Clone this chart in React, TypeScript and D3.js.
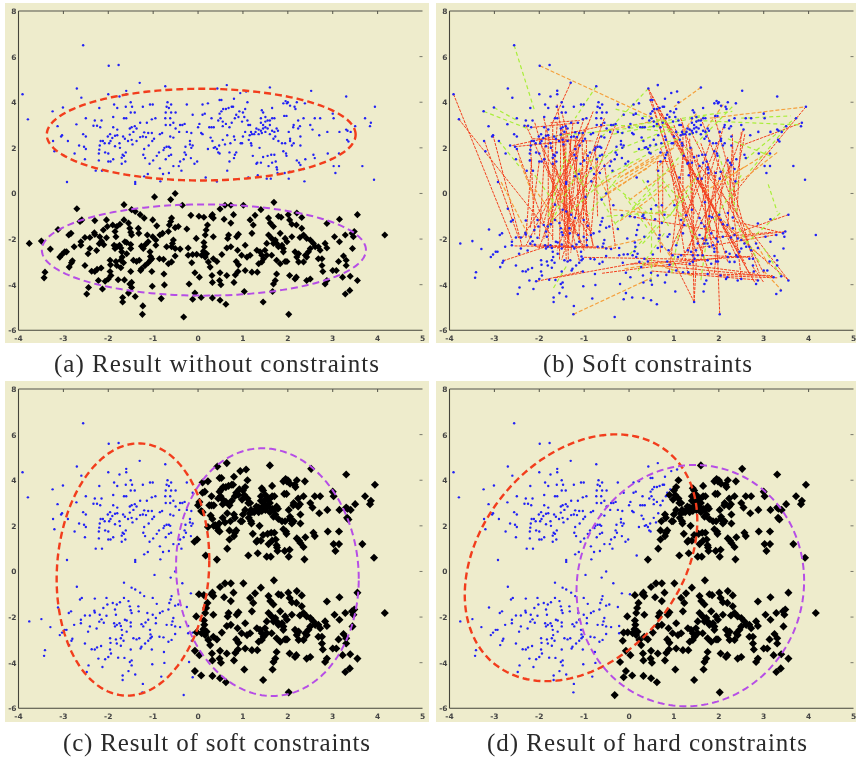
import React from 'react';
import * as d3 from 'd3';

// points, [x, y] in data units
const upperCluster: number[][] = [
  [-2.56,6.5],[-1.99,5.6],[-1.77,5.63],[-1.3,4.85],[-3.91,4.35],[-3.79,3.25],[-2.7,4.6],[-2.6,4.2],[-2,4.35],[-1.6,4.5],[-1.6,4.35],[-0.73,4.7],[0.43,4.6],[0.64,4.75],[0.94,4.4],[1.07,4.47],[1.6,4.65],[2.52,4.5],[3.3,4.25],[3.94,3.8],[3.72,3.3],[3.85,3.1],[3.83,2.95],[3.5,2.95],[3.66,1.2],[3.92,0.6],[-2.92,0.5],[-1.4,0.5],[-1.4,0.42],[-0.84,0.53],
  [-3.24,3.6],[-3.01,3.77],[-3.13,2.95],[-3.03,2.55],[-3.05,2.5],[-3.23,2.3],[-3.2,1.85],[-2.9,2.3],[-2.75,1.75],[-2.71,3.03],[-2.65,2.1],[-2.54,2.05],[-2.5,1.95],[-2.56,2.6],[-2.5,2.5],[-2.5,3.3],[-2.52,1.5],[-2.3,3.2],[-2.33,2.97],[-2.25,2.97],[-2.15,3.2],[-2.18,2.9],[-2.2,3.75],[-2.28,1.0],[-2.14,1.0],[-2.21,1.45],
  [-2.21,1.75],[-2.2,1.92],[-2.19,2.1],[-2.17,2.3],[-2.12,2.3],[-2.08,2.2],[-2.07,1.8],[-2.0,1.75],[-1.98,2.2],[-2.01,2.5],[-1.96,2.6],[-1.89,2.9],[-1.8,2.8],[-1.85,2.53],[-1.8,2.55],[-1.91,2.43],[-1.95,2.3],[-1.85,2.07],[-1.75,2.2],[-1.74,2.0],[-1.68,1.7],[-1.7,1.57],[-1.65,1.65],[-1.61,1.8],[-1.62,1.4],[-1.7,1.3],[-1.89,1.5],[-1.95,1.4],[-2,1.4],[-1.67,2.5],[-1.63,2.4],[-1.56,2.3],[-1.52,2.85],[-1.48,2.9],[-1.41,2.95],[-1.37,2.85],[-1.44,2.7],[-1.52,2.58],[-1.48,2.35],[-1.46,2.15],[-1.37,2.3],[-1.29,2.47],[-1.23,2.5],[-1.16,2.47],[-1.11,2.65],[-1.03,2.65],[-1.2,2.68],[-1.29,3.1],[-1.14,3.1],[-1.03,3.25],[-0.95,3.3],[-1.23,3.8],[-1.07,3.9],[-1.01,3.9],[-1.5,4.0],[-1.47,3.8],[-1.5,3.55],[-1.41,3.55],[-1.65,3.3],[-1.6,3.3],[-1.89,3.35],[-1.87,3.9],[-1.8,3.75],[-1.61,3.8],[-1.75,4.25],
  [-1.22,1.7],[-1.18,1.55],[-1.08,1.3],[-1.2,0.75],[-1.12,0.85],[-1.1,2.1],[-1.2,1.95],[-1.02,2.3],[-0.98,2.4],[-0.92,1.65],[-0.87,1.8],[-0.85,2.6],[-0.8,2.65],[-0.77,1.9],[-0.75,2.0],[-0.7,2.05],[-0.65,2.05],[-0.62,2.0],[-0.6,1.7],[-0.62,2.5],[-0.55,2.45],[-0.72,3.0],[-0.62,3.0],[-0.55,3.1],[-0.5,2.85],[-0.73,3.3],[-0.62,3.3],[-0.72,3.55],[-0.6,3.55],[-0.7,3.8],[-0.68,4.0],[-0.65,3.75],[-0.6,3.9],[-0.5,3.55],[-0.42,2.7],[-0.4,3.0],[-0.3,3.05],[-0.25,2.7],[-0.15,2.65],[-0.35,3.0],[-0.85,1.1],[-0.43,1.2],[-0.37,1.0],[-0.4,1.4],[-0.32,1.5],[-0.28,2.05],[-0.3,1.8],[-0.27,1.7],[-0.15,2.0],[-0.12,2.1],[-0.18,2.15],[-0.25,3.9],[-0.12,3.45],[-0.18,2.3],[-0.16,1.55],[-0.08,1.3],[-0.02,1.4],[-0.65,1.65],[-0.72,1.5],[-1.0,1.45],[-0.78,0.85],[-0.65,0.9],[-0.55,1.2],
  [0,2.9],[0.03,3.05],[0.07,2.65],[0.1,2.6],[0.1,3.9],[0.15,3.5],[0.22,3.95],[0.1,3.45],[0.25,2.9],[0.3,2.9],[0.35,2.9],[0.3,3.3],[0.28,2.45],[0.32,2.3],[0.22,1.95],[0.35,2.0],[0.38,2.03],[0.42,1.95],[0.48,1.75],[0.47,2.1],[0.45,1.8],[0.48,3.5],[0.5,3.3],[0.52,3.6],[0.45,3.2],[0.55,3.15],[0.48,4.1],[0.52,4.1],[0.56,3.7],[0.62,3.7],[0.68,3.75],[0.75,3.8],[0.78,3.8],[0.8,4.15],[0.55,2.95],[0.62,3.05],[0.75,3.1],[0.82,3.3],[0.85,3.45],[0.9,3.35],[0.92,3.6],[0.7,2.9],[0.65,2.55],[0.72,2.2],[0.82,2.35],[0.8,2.5],[0.6,2.15],[0.55,2.35],[0.7,1.8],[0.82,1.7],[0.8,1.55],[0.7,1.4],[0.65,1.0],[0.85,1.8],[0.95,2.2],[0.98,2.2],[1.0,2.5],[1.05,2.7],[0.98,3.15],[1.0,3.55],[1.05,3.7],[1.1,4.0],[1.03,3.35],[1.1,3.2],[1.12,3.0],[1.16,3.0],[1.18,2.7],[1.2,2.6],[1.15,2.55],[1.13,2.35],[1.18,2.2],[1.19,2.1],[1.22,1.65],[1.3,1.3],[1.32,1.35],[1.4,1.35],[1.37,2.0],[1.45,1.6],[1.55,1.65],[1.57,1.2],[1.63,1.7],[1.65,1.35],[1.7,1.7],[1.73,1.4],[1.76,1.05],[1.77,0.9],[1.12,0.7],[1.33,0.8],[1.53,0.65],[1.62,0.65],[1.93,0.9],[2.04,0.95],[2.02,0.65],[2.37,0.53],[0.42,0.52],[0.17,0.7],[2.35,1.07],[1.75,1.15],
  [3.02,1.2],[3.14,1.2],[3.06,0.9],[2.89,1.75],[3.14,1.75],[2.57,1.7],[2.6,1.55],[2.39,1.5],[2.2,1.45],[2.25,1.35],[2.28,1.25],[1.96,1.75],[1.9,1.85],[1.97,1.65],[2.28,2.1],[2.13,2.2],[2.09,2.1],[2.05,2.3],[2.05,2.4],[2.02,2.7],[1.94,2.2],[1.87,2.2],[1.79,2.3],
  [1.4,3.1],[1.45,3.0],[1.5,3.15],[1.55,3.2],[1.5,2.9],[1.55,2.85],[1.6,3.0],[1.45,2.85],[1.4,2.75],[1.35,2.8],[1.3,2.85],[1.28,2.7],[1.25,2.6],[1.35,2.6],[1.42,2.65],[1.5,2.7],[1.6,2.6],[1.65,2.75],[1.7,2.7],[1.75,2.85],[1.78,2.75],[1.72,2.5],[1.68,2.4],[1.65,3.3],[1.7,3.3],[1.6,3.2],[1.65,3.75],[1.42,3.65],[1.45,3.55],[1.4,3.3],[1.5,3.35],
  [1.9,3.95],[1.95,4.05],[1.98,3.95],[2,4.0],[1.92,3.4],[1.97,3.4],[2.05,3.85],[2.15,3.8],[2.17,3.7],[2.2,4.0],[2.38,3.95],[2.23,3.2],[2.13,3.0],[2.12,2.9],[2.23,2.85],[2.27,2.95],[2.28,2.5],[2.35,3.3],[2.5,3.0],[2.55,2.8],[2.6,3.3],[2.72,3.3],[2.7,2.55],[2.88,2.7],[3.0,3.5],[3.02,3.3],[3.15,2.7],[3.3,2.8],[3.33,2.75],[3.32,2.35],[3.35,2.28],[3.4,2.7],
];

const lowerCluster: number[][] = [
  [-3.76,-2.19],[-3.49,-2.09],[-3.29,-2.44],[-3.41,-3.45],[-3.43,-3.7],[-3.12,-1.58],[-2.7,-0.67],[-1.65,-0.49],[-0.97,-0.15],[-0.61,-0.27],[-0.51,0],[-0.35,-0.52],[-1.24,-5.3],[-1.23,-4.93],[-0.32,-5.42],[2.02,-5.3],[1.45,-4.76],[0.62,-4.86],[0.49,-4.68],[0.32,-4.58],[0.07,-4.56],[-0.12,-4.64],[-0.07,-4.37],[1.03,-4.3],[1.66,-4.3],[3.28,-4.41],[3.38,-4.25],[3.55,-3.82],[3.39,-3.63],[4.16,-1.82],[3.55,-0.93],[3.15,-1.13],[2.87,-1.32],[1.69,-0.39],[1.4,-0.71],[1.01,-0.52],[0.73,-0.52],[0.6,-0.52],[0.49,-0.68],
  [-2.48,-4.41],[-2.44,-4.12],[-2.13,-4.19],[-2.22,-3.82],[-2.07,-3.85],[-2.52,-3.16],[-2.87,-3.23],[-2.8,-2.95],[-2.82,-3.04],[-3.08,-2.79],[-3.03,-2.68],[-2.97,-2.56],[-2.93,-2.56],[-2.88,-1.82],[-2.83,-1.75],[-2.76,-2.34],[-2.61,-2.12],[-2.61,-2.27],[-2.52,-1.93],[-2.41,-1.93],[-2.45,-2.64],[-2.41,-2.41],[-2.26,-2.5],[-2.31,-1.72],[-2.3,-1.8],[-2.63,-1.23],[-2.59,-1.16],[-2.3,-1.19],
  [-2.37,-3.41],[-2.3,-3.42],[-2.25,-3.33],[-2.16,-3.27],[-2.19,-1.9],[-2.15,-2.1],[-2.2,-2.2],[-2.1,-2.25],[-2.04,-1.16],[-2.02,-1.45],[-2.11,-1.6],[-2.04,-1.94],[-1.9,-1.38],[-1.85,-1.67],[-1.83,-1.9],[-1.81,-1.45],[-1.74,-1.35],[-1.65,-1.16],[-1.55,-1.3],[-1.52,-1.53],[-1.5,-1.7],[-1.48,-1.82],[-1.87,-2.27],[-1.81,-2.34],[-1.75,-2.27],[-1.85,-2.41],[-1.72,-2.39],[-1.63,-2.12],[-1.59,-2.15],[-1.5,-2.24],[-1.5,-2.41],
  [-1.7,-2.56],[-1.59,-2.64],[-1.69,-2.79],[-1.96,-2.93],[-1.95,-3.13],[-1.83,-2.98],[-1.81,-3.16],[-1.72,-2.93],[-1.66,-3.04],[-1.72,-3.26],[-1.96,-3.42],[-1.94,-3.6],[-2,-3.75],[-1.78,-3.78],[-1.64,-3.79],[-1.5,-3.42],[-1.52,-3.97],[-1.48,-3.9],[-1.55,-4.37],[-1.68,-4.56],[-1.68,-4.76],[-1.4,-4.52],[-1.48,-4.12],
  [-1.48,-0.71],[-1.4,-0.79],[-1.29,-0.93],[-1.2,-1.08],[-1.33,-1.53],[-1.32,-1.75],[-1.01,-1.16],[-0.92,-1.42],[-1.13,-1.82],[-1.01,-1.9],[-0.94,-2.04],[-1.11,-2.12],[-0.94,-2.27],[-1.26,-2.31],[-1.17,-2.24],[-1.22,-2.41],[-1.44,-2.93],[-1.37,-2.98],[-1.31,-2.93],[-1.07,-2.56],[-1.06,-2.76],[-1.06,-2.93],[-1.11,-3.04],[-1.03,-2.86],[-1.18,-3.16],[-1.26,-3.3],[-1.28,-3.38],[-1.03,-3.42],[-0.86,-2.86],[-0.77,-2.89],[-1.02,-4.07],[-0.75,-4.01],[-0.76,-3.53],[-0.82,-4.61],
  [-0.85,-1.82],[-0.79,-1.75],[-0.64,-1.38],[-0.59,-1.08],[-0.61,-1.23],[-0.44,-1.45],[-0.51,-1.5],[-0.25,-1.56],[-0.66,-1.67],[-0.7,-2.34],[-0.59,-2.34],[-0.51,-2.41],[-0.4,-2.44],[-0.55,-2.04],[-0.57,-2.19],[-0.66,-3.08],[-0.59,-3.0],[-0.51,-2.74],
  [-0.22,-2.39],[-0.22,-2.71],[-0.14,-3.04],[-0.12,-2.68],[-0.03,-2.67],[-0.07,-3.48],[0.03,-3.67],[-0.2,-3.97],[-0.16,-0.96],[0.02,-1.0],[0.13,-1.04],[-0.04,-1.97],[0.13,-2.15],[0.14,-2.34],[0.18,-1.6],[0.21,-1.38],[0.16,-1.82],[0.08,-2.71],[0.16,-2.79],[0.23,-3.0],[0.27,-3.23],[0.19,-2.64],[0.12,-2.53],[0.34,-1.9],[0.3,-1.0],[0.34,-1.08],[0.32,-0.93],[0.34,-2.86],[0.42,-2.98],[0.53,-2.68],[0.31,-3.6],[0.32,-3.9],[0.49,-3.48],[0.48,-3.82],[0.51,-4.0],[0.64,-3.6],[0.8,-3.9],[0.83,-3.57],[0.89,-3.42],[0.58,-1.13],[0.79,-0.93],[0.73,-1.3],[0.68,-1.82],[0.66,-1.97],[0.86,-1.9],[0.9,-1.79],[0.64,-2.39],[0.73,-2.34],[0.88,-2.49],[0.85,-2.98],[0.9,-3.13],[1.05,-3.38],[1.2,-3.45],[1.32,-3.45],[0.97,-2.71],[1.09,-2.79],[1.16,-2.71],[1.05,-2.27],[1.2,-1.75],[1.23,-1.38],[1.27,-0.96],[1.16,-1.16],
  [1.31,-2.49],[1.38,-2.56],[1.42,-2.71],[1.49,-2.49],[1.53,-2.19],[1.35,-3.08],[1.42,-3],[1.46,-2.86],[1.53,-2.71],[1.57,-1.08],[1.61,-1.3],[1.68,-1.45],[1.57,-1.82],[1.64,-1.97],[1.72,-2.04],[1.68,-2.19],[1.75,-2.19],[1.79,-2.34],[1.87,-2.27],[1.9,-2.41],[1.9,-2.56],[1.83,-1.75],[1.94,-1.97],[1.98,-2.12],[1.79,-1.0],[1.85,-1.04],[2.01,-0.93],[2.04,-1.16],[2.2,-0.86],[2.31,-1.05],[2.09,-1.35],[2.19,-1.38],[2.31,-1.53],[2.09,-1.9],[1.64,-2.71],[1.75,-2.93],[1.83,-3.08],[1.75,-3.53],[1.72,-3.82],[1.68,-3.97],[1.94,-2.98],[1.98,-2.98],[2.04,-3.6],[2.16,-3.75],[2.19,-3.67],[2.16,-2.56],[2.24,-2.64],[2.2,-2.79],[2.24,-3],[2.39,-2.71],[2.42,-2.79],[2.35,-3],[2.27,-1.93],[2.35,-1.82],[2.42,-1.97],[2.5,-2.04],[2.57,-2.19],[2.61,-2.34],[2.5,-2.41],[2.46,-2.56],[2.42,-3.82],[2.5,-3.75],[2.68,-2.34],[2.72,-2.49],[2.68,-2.86],[2.76,-2.86],[2.76,-3.16],[2.78,-3.42],[2.83,-2.19],[2.87,-2.39],[2.87,-3.82],[2.83,-3.97],[3,-3.38],[3.08,-3.38],[3.04,-1.9],[3.15,-2.12],[3.28,-1.82],[3.43,-1.75],[3.48,-1.67],[3.46,-1.9],[3.44,-2.41],[3.13,-2.98],[3.24,-2.74],[3.3,-2.93],[3.3,-3.16],[3.22,-3.67],
];

// constraint lines of panel (b): [x1, y1, x2, y2]
const redLinks: number[][] = [
  [-3.91,4.35,-2.6,-2.05],[-3.79,3.25,-1.7,-1.9],[-3.22,2.3,-2.45,-2],[-3.03,2.55,-2.38,-2.35],[-2.6,2.1,-0.5,3.0],[-2.55,2.05,-1.3,2.3],[-2.15,2.9,-1.1,3.1],[-2.15,2.4,-0.8,2.3],[-1.75,3.1,-1.1,3.2],[-1.3,4.85,-1.75,2.9],[-2.5,1.95,-1.9,-1.3],[-2.2,2.3,-2.1,-1.8],[-2.17,1.5,-2.3,-2],[-2.0,1.4,-2.2,-1.5],[-1.85,2.8,-2.0,-2.0],[-1.8,2.6,-1.8,-2.3],[-1.7,3.0,-1.7,-2.1],[-1.6,3.1,-1.75,-1.5],[-1.52,2.85,-1.55,-2.9],[-1.48,3.0,-1.4,-2.9],[-1.45,2.5,-1.35,-3.0],[-1.4,2.9,-1.45,-2.4],[-1.3,2.3,-1.35,-2.5],[-1.25,3.1,-1.5,-1.2],[-1.2,2.5,-1.1,-2.1],[-1.15,2.2,-1.4,-1.9],[-1.1,2.4,-1.3,-0.9],[-1.05,2.7,-1.0,-2.4],[-1.0,1.8,-1.3,-2.6],[-0.95,2.3,-0.95,-2.2],[-0.9,1.6,-1.1,-1.5],[-0.75,2.1,-0.7,-1.0],[-0.7,1.45,-0.85,-1.8],[-0.55,1.3,-0.3,-2.4],[-0.65,2.5,-1.5,-2.9],[-1.6,1.0,-1.9,-1.3],[-1.4,0.5,-1.35,-2.0],
  [-2.3,3.0,-1.0,-2.5],[-2.1,3.1,-1.3,-2.3],[-2.0,2.3,-0.9,-1.9],[-1.9,3.3,-1.1,-3.0],[-1.5,3.6,-0.8,-2.3],[-1.6,3.9,-1.2,-1.8],[-1.0,3.3,-2.0,-2.4],[-0.8,3.6,-1.9,-2.0],[-0.55,3.3,-1.6,-2.5],[-0.9,3.1,-2.3,-2.3],[-1.2,1.7,-2.4,-2.0],[-0.4,1.5,-1.8,-1.4],[-0.3,3.0,-1.25,-1.7],[-1.1,1.0,-0.8,-2.3],[-1.9,1.5,-1.0,-2.4],[-1.7,1.3,-0.9,-1.6],
  [-2.55,-2.3,-0.7,-2.35],[-2.2,-2.25,-0.75,-2.35],[-2.05,-2.35,-0.3,-2.4],[-2.8,-2.95,-1.8,-2.3],[-1.65,-3.7,0.3,-3.0],[-2.05,-3.85,-1.0,-3.4],[-0.6,-3.5,2.1,-2.8],[-1.0,-2.8,1.7,-2.9],
  [0.43,4.6,2.2,-1.8],[0.43,4.6,1.5,-2.6],[0.47,4.1,1.7,-3.0],[0.5,4.3,2.7,-3.6],[0.6,3.7,3.55,-3.8],[0.65,3.7,1.3,-1.0],[0.7,3.5,2.45,-2.5],[0.8,3.1,2.8,-3.9],[1.0,3.0,1.9,-2.0],[0.63,1.4,0.7,-2.6],[0.75,1.4,0.75,-1.0],[0.63,1.4,0.9,1.4],[1.2,3.0,1.2,-1.5],[1.25,2.7,1.45,-0.9],[1.35,2.4,1.45,-4.76],[1.4,2.0,1.45,-3],[1.5,1.7,1.85,-2.4],[1.6,2.2,2.3,-1.8],[1.7,1.3,1.7,-2.2],[1.75,0.9,1.8,-1.6],[1.9,1.0,2.02,-5.3],[2.0,1.5,1.6,-2.9],[2.1,1.0,1.9,-3.5],[2.3,2.1,2.2,-1.5],[2.2,1.6,1.7,-1],[2.5,2.7,2.4,-1],[2.58,2.6,2.25,-0.7],[2.3,2.6,2.35,-0.5],[2.5,2.1,3.85,3.1],[3.94,3.8,2.3,-0.1],
  [1.0,2.3,2.6,-3.1],[1.15,3.3,2.2,-3.0],[1.3,3.0,3.0,-3.5],[1.6,3.3,2.9,-3.5],[1.9,3.4,2.7,-2.5],[2.1,2.9,1.3,-2.7],[2.3,1.4,1.15,-3.0],[2.55,2.8,1.6,-2.4],[2.0,2.3,0.9,-2.6],[1.8,2.2,1.05,-2.3],[1.2,1.6,0.9,-3.4],[1.0,1.0,2.0,-2.6],[0.7,2.0,1.8,-3.5],[2.2,1.3,2.5,-3.7],[1.6,0.6,2.4,-2.8],[0.9,1.5,1.3,-3.4],
  [3.55,-0.93,2.3,-1.8],[3.55,-3.8,1.9,-1],[3.48,-1.67,2.5,-1.9],[3.4,-1.72,2.3,-1.2],[3.3,-1.8,1.5,-2.4],[0,-1.0,2.1,-1.7],[0.3,-3.1,3.2,-3.65],[0.5,-3.4,2.9,-3.8],[1.2,-3.5,3.2,-3.6],[0.9,-2.65,2.7,-2.8],[1.45,-4.76,1.0,-3.0],[1.45,-4.76,1.5,-2.9],[2.0,-3.6,3.3,-3.7],[0.35,-2.9,2.8,-3.5],[2.75,-3.2,3.0,-3.9],[1.5,-2.0,3.2,-1.7],[0.05,-3.1,2.75,-2.75],
];

const orangeLinks: number[][] = [
  [-1.99,5.6,0.55,3.3],[-2.45,1.5,-2.1,-0.3],[-1.24,-5.3,0.5,-3.7],[1.6,4.65,1.0,3.8],[0.8,1.8,-0.1,0.8],[1.0,2.0,-0.3,0.4],[3.3,1.8,2.4,0.4],[3.1,1.8,2.2,0.7],[-1,1.9,-0.4,-0.3],[0.4,1.1,-0.5,0],[0.6,1.4,-0.6,-0.2],[1.8,3.3,3.94,3.8],[0.2,-0.6,1.0,-3],[1.4,-3.6,0.4,-3],[-2.85,0.5,-2.2,-2],[1.5,3.5,0.6,1],[2.1,3.9,1.7,2.8],[-0.6,-2.4,0.3,-2],[1.2,-1.0,-0.4,-0.7],[3.0,-3.4,3.4,-4.25],
  [-0.2,0.7,0.6,1.7],[0,-0.3,1.1,1.3],[-0.7,0.3,0.3,1.5],[-0.2,-1.2,0.9,0.4],[0.7,-0.9,1.5,0.7],[1.7,0.1,2.6,1.2],[-1.6,-0.3,-1.0,1.2],[-0.1,-3.3,0.9,-3.0],[-0.7,2.7,0.9,3.3],[2.0,-1.0,2.9,-2.7],[2.6,-1.4,3.1,-3.1],[-2.1,0.2,-1.4,-1.8],
];

const greenLinks: number[][] = [
  [-2.56,6.5,-2.1,3.6],[0.43,4.6,-0.6,2.5],[-3.24,3.6,-2.2,2.8],[-3.01,3.77,-2.5,3.2],[-2.9,2.3,-2.45,1.2],[-0.73,4.7,-1.2,3.3],[1.5,3.2,3.85,3.0],[2.5,3.3,3.6,3.4],[0.1,3.0,2.3,3.6],[2.6,1.5,3.7,3.3],[2.7,1.0,3.5,2.9],[3.1,0.4,3.3,-0.8],[1.0,2.9,-0.5,3.0],[-0.5,-1.0,0.9,-0.8],[-1.4,1.5,-0.9,0],[-0.8,0.4,-0.2,-1.7],[-0.5,0.6,0.5,-1],[0,1.3,-0.9,-0.9],[0.3,0.6,0.9,-1.5],[0.5,-3.9,0.5,-0.5],[0.6,-1.4,0,-2.7],[1.6,-3.8,1.8,-1],[-1.4,-3.2,-1.7,-4.2],[2.3,3.8,1.5,2.2],[3.38,-3.6,3.0,-2.4],[2.2,2.4,3.2,1.6],[1.1,-0.2,0.6,0.9],[0.1,1.8,1.1,2.4],[-0.35,2.6,1.7,3.4],[-0.1,-0.1,0.4,-1.5],[-1.1,1.1,-1.8,-1.5],
  [-1.7,2.5,0.2,2.9],[-0.9,1.4,1.0,2.9],[-0.4,0.9,0.9,2.2],[0.1,-0.6,1.3,2.0],[-0.3,-1.3,0.8,0.5],[0.3,-2.2,1.4,0.1],[-1.1,0.5,-0.3,2.0],[-1.3,-0.8,-0.4,0.9],[-1.8,-1.0,-1.4,1.8],[-2.1,0.8,-1.6,-0.6],[0.9,-1.0,1.6,1.0],[1.9,-1.2,2.5,0.8],[2.4,-0.8,2.0,1.7],[1.5,-2.0,0.8,0.2],[2.6,-2.2,3.4,-0.8],[0.4,2.8,1.5,2.6],[-0.3,3.7,0.9,3.1],[0.2,-3.4,0.8,-1.7],[0.95,-3.5,1.1,-1.8],[2.9,-3.0,2.4,-1.4],
];

// Gaussian outlines: [cx, cy, sx, sy, rho]
const ellipsesA = [[0.07,2.58,3.44,2.01,0],[0.13,-2.48,3.61,2.0,0]];
const ellipsesC = [[-1.45,0.085,1.7,5.53,0.076],[1.545,-0.03,2.035,5.43,-0.054]];
const ellipsesD = [[-1.07,0.6,2.59,5.41,0.3],[1.365,-0.62,2.535,5.29,0.04]];

// where the black label starts in panels (c) and (d)
const cutC = -0.1;
const cutDY = [-5.4,-2.5,-1,0.5,2,4.5];
const cutDX = [-0.35,-0.18,0.08,0.3,0.65,1.1];

const xTicks = [-4,-3,-2,-1,0,1,2,3,4,5];
const yTicks = [8,6,4,2,0,-2,-4,-6];

const BG = '#eeeccc';
const BLUE = '#2020f5';
const RED = '#f23c1c';
const PURPLE = '#b64ee6';
const INK = '#2a2a2a';

const allPoints = [...upperCluster, ...lowerCluster];
const cutD = d3.scaleLinear().domain(cutDY).range(cutDX);

const isBlackA = (p: number[]) => lowerCluster.includes(p);
const isBlackC = (p: number[]) => p[0] > cutC;
const isBlackD = (p: number[]) => p[0] > cutD(p[1]);

const ellipsePath = (e: number[], x: any, y: any) => {
  const [cx, cy, sx, sy, rho] = e;
  const line = d3.line<number>()
    .x(t => x(cx + sx * Math.cos(t)))
    .y(t => y(cy + sy * (rho * Math.cos(t) + Math.sqrt(1 - rho * rho) * Math.sin(t))))
    .curve(d3.curveLinearClosed);
  return line(d3.range(0, Math.PI * 2, 0.03)) as string;
};

const Panel = ({ left, top, height, axisLeft, axisTop, ellipses, black, links, size, dotSize, caption, capX, capW, capY }: any) => {
  const x = d3.scaleLinear().domain([-4, 5]).range([axisLeft, axisLeft + 404]);
  const y = d3.scaleLinear().domain([-6, 8]).range([axisTop + 319.3, axisTop]);
  const diamond = d3.symbol().type(d3.symbolDiamond2).size(size)() as string;
  const dot = d3.symbol().type(d3.symbolCircle).size(dotSize)() as string;
  const blues = allPoints.filter(p => !black || !black(p));
  const blacks = black ? allPoints.filter(p => black(p)) : [];

  const drawLinks = (rows: number[][], color: string, dash: string, w: number) =>
    rows.map((l, i) => (
      <line key={color + i} x1={x(l[0])} y1={y(l[1])} x2={x(l[2])} y2={y(l[3])}
        stroke={color} strokeWidth={w} strokeDasharray={dash} />
    ));

  return (
    <g>
      <rect x={left} y={top} width={424} height={height} fill={BG} />
      <g filter="url(#soft)">
        {links && drawLinks(redLinks, '#f2401e', '3 1', 1)}
        {links && drawLinks(orangeLinks, '#f5a03c', '4 2', 1.2)}
        {links && drawLinks(greenLinks, '#a9ee3a', '4 3', 1.2)}

        {blues.map((p, i) => (
          <path key={i} d={dot} transform={`translate(${x(p[0])},${y(p[1])})`} fill={BLUE} />
        ))}
        {blacks.map((p, i) => (
          <path key={i} d={diamond} transform={`translate(${x(p[0])},${y(p[1])})`} fill="#000" />
        ))}
        {ellipses && (
          <>
            <path d={ellipsePath(ellipses[0], x, y)} fill="none" stroke={RED} strokeWidth={2.4} strokeDasharray="7 4" />
            <path d={ellipsePath(ellipses[1], x, y)} fill="none" stroke={PURPLE} strokeWidth={2} strokeDasharray="7 4" />
          </>
        )}

        <path d={`M${x(-4)},${y(-6)}V${y(8)}M${x(-4)},${y(-6)}H${x(5)}`} fill="none" stroke="#44443a" strokeWidth={1.1} />
        <path d={`M${x(-4)},${y(8)}H${x(5)}`} fill="none" stroke="#55554a" strokeWidth={1} />
        {xTicks.slice(1, -1).map(t => (
          <line key={t} x1={x(t)} x2={x(t)} y1={y(8)} y2={y(8) + 3} stroke="#55554a" />
        ))}
        {yTicks.slice(1, -1).map(t => (
          <line key={t} x1={x(5) - 3} x2={x(5)} y1={y(t)} y2={y(t)} stroke="#77776a" />
        ))}
        <g fontFamily="'DejaVu Sans'" fontSize={7.5} fontWeight="bold" fill="#444">
          {xTicks.map(t => (
            <text key={t} x={x(t)} y={y(-6) + 11} textAnchor="middle">{t}</text>
          ))}
          {yTicks.map(t => (
            <text key={t} x={x(-4) - 2} y={y(t) + 3} textAnchor="end">{t}</text>
          ))}
        </g>
      </g>
      <text x={capX} y={capY} textLength={capW} lengthAdjust="spacing" fontFamily="'Liberation Serif'" fontSize={25} fill={INK} filter="url(#softText)">
        {caption}
      </text>
    </g>
  );
};

export default function App() {
  return (
    <svg width={856} height={759} style={{ position: 'absolute', left: 0, top: 0, display: 'block', background: '#fff' }}>
      <defs>
        <filter id="soft" x="-2%" y="-2%" width="104%" height="104%">
          <feGaussianBlur stdDeviation={0.6} />
        </filter>
        <filter id="softText" x="-2%" y="-20%" width="104%" height="140%">
          <feGaussianBlur stdDeviation={0.35} />
        </filter>
      </defs>
      <Panel left={5} top={3} height={340} axisLeft={18.5} axisTop={11} ellipses={ellipsesA} black={isBlackA} size={32} dotSize={4.5}
        caption="(a) Result without constraints" capX={54} capW={325} capY={372} />
      <Panel left={436} top={3} height={340} axisLeft={449.5} axisTop={11} links dotSize={5}
        caption="(b) Soft constraints" capX={543} capW={209} capY={372} />
      <Panel left={5} top={381} height={341} axisLeft={18.5} axisTop={389} ellipses={ellipsesC} black={isBlackC} size={42} dotSize={4.5}
        caption="(c) Result of soft constraints" capX={63} capW={307} capY={751} />
      <Panel left={436} top={381} height={341} axisLeft={449.5} axisTop={389} ellipses={ellipsesD} black={isBlackD} size={42} dotSize={4.5}
        caption="(d) Result of hard constraints" capX={487} capW={320} capY={751} />
    </svg>
  );
}
